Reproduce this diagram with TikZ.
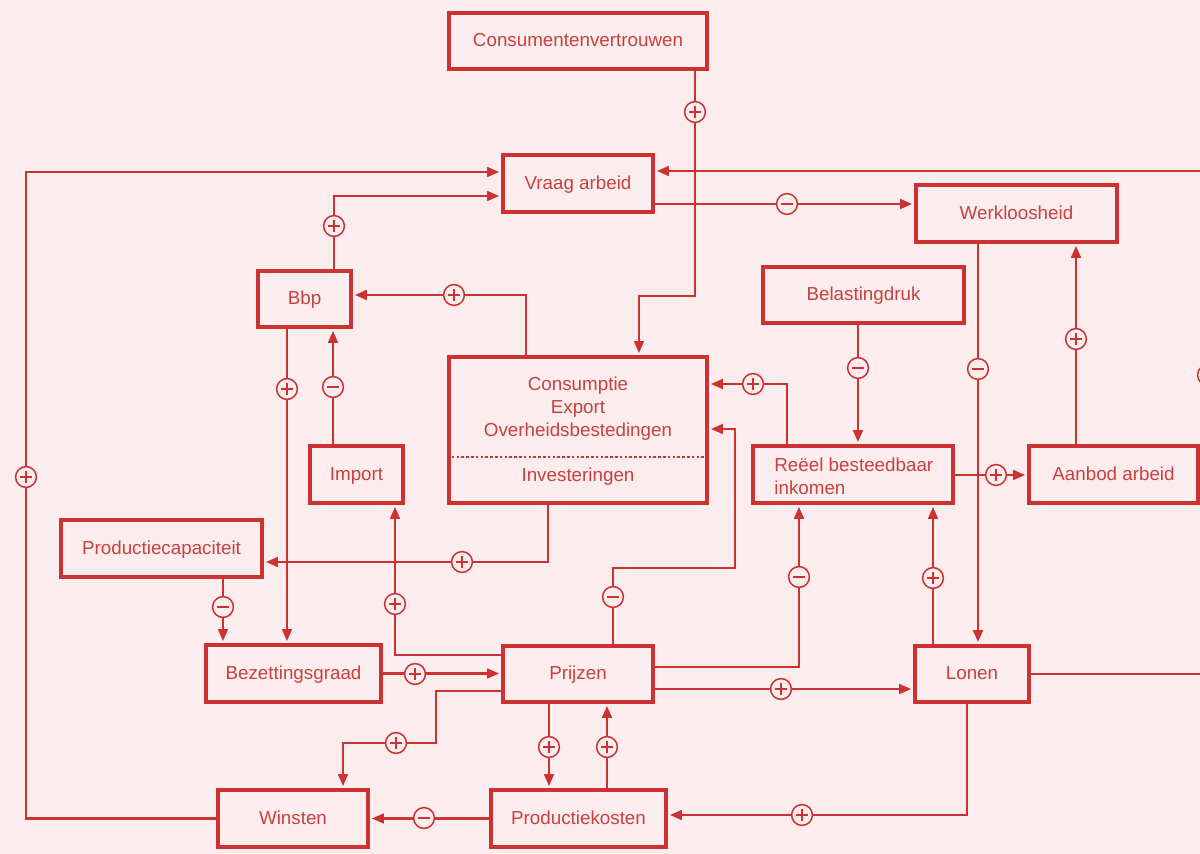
\documentclass[tikz,border=0pt]{standalone}
\usepackage{fontspec}
\setmainfont{Liberation Sans}
\usetikzlibrary{arrows.meta}
\definecolor{lc}{RGB}{204,50,50}
\definecolor{tc}{RGB}{200,64,64}
\definecolor{bg}{RGB}{251,237,237}
\tikzset{
  box/.style={draw=lc, line width=2pt, fill=bg, inner sep=0pt, text=tc,
    font=\fontsize{9.4}{11.5}\selectfont, align=center, text height=6.9pt, text depth=1.2pt},
  txt/.style={inner sep=0pt, text=tc, font=\fontsize{9.4}{11.5}\selectfont},
  arr/.style={draw=lc, line width=1.3pt, -{Triangle[length=6pt,width=4.8pt]}, shorten >=0.9pt},
  sgn/.style={circle, draw=lc, fill=bg, line width=0.75pt, minimum size=10.4pt, inner sep=0pt},
  pl/.style={sgn, path picture={\draw[lc, line width=0.6pt]
      ([xshift=-3pt]path picture bounding box.center) -- ([xshift=3pt]path picture bounding box.center)
      ([yshift=-3pt]path picture bounding box.center) -- ([yshift=3pt]path picture bounding box.center);}},
  mi/.style={sgn, path picture={\draw[lc, line width=0.6pt]
      ([xshift=-3pt]path picture bounding box.center) -- ([xshift=3pt]path picture bounding box.center);}},
}
\begin{document}
\begin{tikzpicture}[x=0.5pt, y=-0.5pt]
\fill[bg] (0,0) rectangle (1200,854);
\useasboundingbox (0,0) rectangle (1200,854);

% boxes
\node[box, minimum width=129pt, minimum height=28pt] (cv) at (578,41) {Consumentenvertrouwen};
\node[box, minimum width=75pt, minimum height=28.5pt] (va) at (578,183.5) {Vraag arbeid};
\node[box, minimum width=100.5pt, minimum height=28.5pt] (wk) at (1016.5,213.5) {Werkloosheid};
\node[box, minimum width=100.5pt, minimum height=28pt] (bd) at (863.5,295) {Belastingdruk};
\node[box, minimum width=46.5pt, minimum height=28pt] (bbp) at (304.5,299) {Bbp};
\node[box, minimum width=129pt, minimum height=73pt] (ce) at (578,430) {};
\node[box, minimum width=46.5pt, minimum height=28.5pt] (imp) at (356.5,474.5) {Import};
\node[box, minimum width=100pt, minimum height=28.5pt] (rbi) at (853,474.5) {};
\node[box, minimum width=84.5pt, minimum height=28.5pt] (aa) at (1113.5,474.5) {Aanbod arbeid};
\node[box, minimum width=100.5pt, minimum height=28.5pt] (pc) at (161.5,548.5) {Productiecapaciteit};
\node[box, minimum width=87.5pt, minimum height=28.5pt] (bz) at (293.5,673.5) {Bezettingsgraad};
\node[box, minimum width=75pt, minimum height=28pt] (pr) at (578,674) {Prijzen};
\node[box, minimum width=57pt, minimum height=28pt] (lo) at (972,674) {Lonen};
\node[box, minimum width=75pt, minimum height=28.5pt] (wi) at (293,818.5) {Winsten};
\node[box, minimum width=87.5pt, minimum height=28.5pt] (pk) at (578.5,818.5) {Productiekosten};

% texts inside compound boxes
\node[txt, align=center] (cet) at (578,409) {Consumptie\\Export\\Overheidsbestedingen};
\node[txt] (cei) at (578,477) {Investeringen};
\draw[lc, line width=1.3pt, dash pattern=on 1.3pt off 1.1pt] (ce.west |- 0,457) -- (ce.east |- 0,457);
\node[txt, anchor=west, align=left] (rbit) at (774,476.5) {Reëel besteedbaar\\inkomen};

% connectors
\draw[arr] (cv.south -| 695,0) |- (639,296) -- (ce.north -| 639,0);
\draw[arr] (va.east |- 0,204) -- (wk.west |- 0,204);
\draw[arr] (lo.east) -- (1207,674) -- (1207,171) -- (va.east |- 0,171);
\draw[arr] (wi.west) -| (26,172) -- (va.west |- 0,172);
\draw[arr] (bbp.north -| 334,0) |- (va.west |- 0,196);
\draw[arr] (ce.north -| 526,0) |- (bbp.east |- 0,295);
\draw[arr] (bbp.south -| 287,0) -- (bz.north -| 287,0);
\draw[arr] (imp.north -| 333,0) -- (bbp.south -| 333,0);
\draw[arr] (ce.south -| 548,0) |- (pc.east |- 0,562);
\draw[arr] (pc.south -| 223,0) -- (bz.north -| 223,0);
\draw[arr] (bz.east) -- (pr.west |- bz.east);
\draw[arr] (pr.west |- 0,655) -| (imp.south -| 395,0);
\draw[arr] (pr.west |- 0,691) -| (436,743) -| (wi.north -| 343,0);
\draw[arr] (pr.south -| 549,0) -- (pk.north -| 549,0);
\draw[arr] (pk.north -| 607,0) -- (pr.south -| 607,0);
\draw[arr] (pk.west) -- (wi.east);
\draw[arr] (lo.south -| 967,0) |- (pk.east |- 0,815);
\draw[arr] (pr.east |- 0,689) -- (lo.west |- 0,689);
\draw[arr] (pr.east |- 0,667) -| (rbi.south -| 799,0);
\draw[arr] (pr.north -| 613,0) |- (735,568) |- (ce.east |- 0,429);
\draw[arr] (rbi.north -| 787,0) |- (ce.east |- 0,384);
\draw[arr] (bd.south -| 858,0) -- (rbi.north -| 858,0);
\draw[arr] (wk.south -| 978,0) -- (lo.north -| 978,0);
\draw[arr] (aa.north -| 1076,0) -- (wk.south -| 1076,0);
\draw[arr] (rbi.east |- 0,475) -- (aa.west |- 0,475);
\draw[arr] (lo.north -| 933,0) -- (rbi.south -| 933,0);

% sign markers
\node[pl] (s1) at (695,112) {};
\node[mi] (s2) at (787,204) {};
\node[mi] (s3) at (1208,375) {};
\node[pl] (s4) at (26,477) {};
\node[pl] (s5) at (334,226) {};
\node[pl] (s6) at (454,295) {};
\node[pl] (s7) at (287,389) {};
\node[mi] (s8) at (333,387) {};
\node[pl] (s9) at (462,562) {};
\node[mi] (s10) at (223,607) {};
\node[pl] (s11) at (415,674) {};
\node[pl] (s12) at (395,604) {};
\node[pl] (s13) at (396,743) {};
\node[pl] (s14) at (549,747) {};
\node[pl] (s15) at (607,747) {};
\node[mi] (s16) at (424,818) {};
\node[pl] (s17) at (802,815) {};
\node[pl] (s18) at (781,689) {};
\node[mi] (s19) at (799,577) {};
\node[mi] (s20) at (613,597) {};
\node[pl] (s21) at (753,384) {};
\node[mi] (s22) at (858,368) {};
\node[mi] (s23) at (978,369) {};
\node[pl] (s24) at (1076,339) {};
\node[pl] (s25) at (996,475) {};
\node[pl] (s26) at (933,578) {};
\end{tikzpicture}
\end{document}
